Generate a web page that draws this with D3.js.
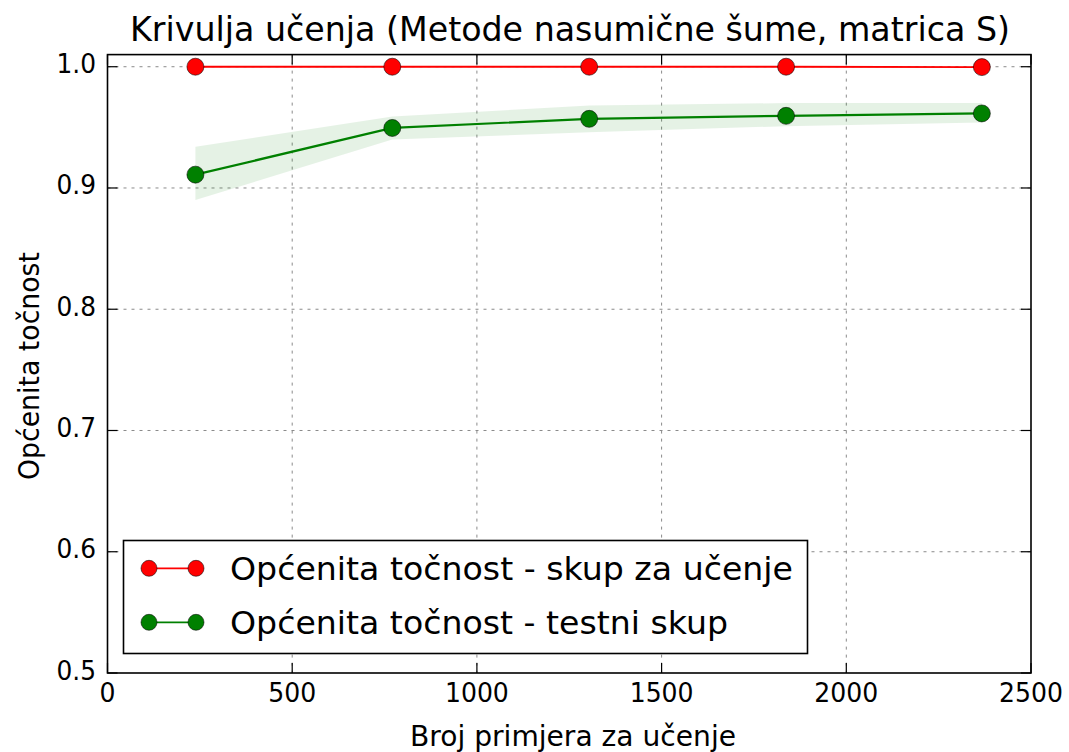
<!DOCTYPE html>
<html>
<head>
<meta charset="utf-8">
<script src="https://cdn.jsdelivr.net/npm/d3@7"></script>
<style>
  html, body { margin: 0; padding: 0; background: #fff; }
  svg { display: block; }
  text { font-family: "DejaVu Sans", sans-serif; fill: #000; }
</style>
</head>
<body>
<svg id="chart" width="1069" height="752"></svg>
<script>
// ---- data ----
const trainSizes = [238, 771, 1304, 1837, 2367];
const trainMean = [1.0, 1.0, 1.0, 1.0, 0.9997];
const trainLow = [1.0, 1.0, 1.0, 1.0, 0.9994];
const trainHigh = [1.0, 1.0, 1.0, 1.0, 1.0];
const testMean = [0.911, 0.9495, 0.957, 0.9595, 0.9615];
const testLow = [0.890, 0.940, 0.946, 0.951, 0.954];
const testHigh = [0.934, 0.959, 0.968, 0.970, 0.970];
const xTicks = [0, 500, 1000, 1500, 2000, 2500];
const yTicks = [0.5, 0.6, 0.7, 0.8, 0.9, 1.0];
const titleText = "Krivulja učenja (Metode nasumične šume, matrica S)";
const xLabelText = "Broj primjera za učenje";
const yLabelText = "Općenita točnost";
const legendLabels = ["Općenita točnost - skup za učenje", "Općenita točnost - testni skup"];
const seriesColors = ["#ff0000", "#008000"];

// ---- layout ----
const svg = d3.select("#chart");
const L = 107.5, R = 1031, T = 54.6, B = 673;
const x = d3.scaleLinear().domain([0, 2500]).range([L, R]);
const y = d3.scaleLinear().domain([0.5, 1.01]).range([B, T]);
const txt = "#262626";

// grid
const grid = svg.append("g");
grid.selectAll("line.gx").data(xTicks.slice(1, -1)).join("line")
  .attr("x1", d => x(d)).attr("x2", d => x(d)).attr("y1", T).attr("y2", B)
  .attr("stroke", "#8a8a8a").attr("stroke-width", 1).attr("stroke-dasharray", "3,5");
grid.selectAll("line.gy").data(yTicks.slice(1)).join("line")
  .attr("y1", d => y(d)).attr("y2", d => y(d)).attr("x1", L).attr("x2", R)
  .attr("stroke", "#8a8a8a").attr("stroke-width", 1).attr("stroke-dasharray", "3,5");

// bands
const area = (lo, hi) => d3.area().x((d, i) => x(trainSizes[i])).y0((d, i) => y(lo[i])).y1((d, i) => y(hi[i]));
svg.append("path").attr("d", area(trainLow, trainHigh)(trainSizes))
  .attr("fill", seriesColors[0]).attr("fill-opacity", 0.1);
svg.append("path").attr("d", area(testLow, testHigh)(trainSizes))
  .attr("fill", seriesColors[1]).attr("fill-opacity", 0.1);

// lines
const line = vals => d3.line().x((d, i) => x(trainSizes[i])).y((d, i) => y(vals[i]));
svg.append("path").attr("d", line(trainMean)(trainSizes)).attr("fill", "none")
  .attr("stroke", seriesColors[0]).attr("stroke-width", 1.8);
svg.append("path").attr("d", line(testMean)(trainSizes)).attr("fill", "none")
  .attr("stroke", seriesColors[1]).attr("stroke-width", 2.2);

// markers
[[trainMean, 0], [testMean, 1]].forEach(([vals, k]) => {
  svg.append("g").selectAll("circle").data(vals).join("circle")
    .attr("cx", (d, i) => x(trainSizes[i])).attr("cy", d => y(d)).attr("r", 8.5)
    .attr("fill", seriesColors[k]).attr("stroke", "#000").attr("stroke-opacity", 0.55).attr("stroke-width", 1);
});

// frame
svg.append("rect").attr("x", L).attr("y", T).attr("width", R - L).attr("height", B - T)
  .attr("fill", "none").attr("stroke", "#000").attr("stroke-width", 1.6);

// ticks (inside, all four sides)
const tl = 10;
const tk = svg.append("g").attr("stroke", "#000").attr("stroke-width", 1.2);
xTicks.forEach(v => {
  tk.append("line").attr("x1", x(v)).attr("x2", x(v)).attr("y1", B).attr("y2", B - tl);
  tk.append("line").attr("x1", x(v)).attr("x2", x(v)).attr("y1", T).attr("y2", T + tl);
});
yTicks.forEach(v => {
  tk.append("line").attr("y1", y(v)).attr("y2", y(v)).attr("x1", L).attr("x2", L + tl);
  tk.append("line").attr("y1", y(v)).attr("y2", y(v)).attr("x1", R).attr("x2", R - tl);
});

// tick labels (slightly condensed like the reference)
const fmtY = d3.format(".1f");
svg.append("g").selectAll("text").data(xTicks).join("text")
  .attr("x", d => x(d)).attr("y", 701.5).attr("text-anchor", "middle")
  .attr("font-size", 27).attr("fill", txt)
  .attr("textLength", d => String(d).length * 0.636 * 27 * 0.93).attr("lengthAdjust", "spacingAndGlyphs")
  .text(d => d);
svg.append("g").selectAll("text").data(yTicks).join("text")
  .attr("x", 96).attr("y", d => y(d) + 6.5).attr("text-anchor", "end")
  .attr("font-size", 27).attr("fill", txt)
  .attr("textLength", 1.59 * 27 * 0.92).attr("lengthAdjust", "spacingAndGlyphs")
  .text(d => fmtY(d));

// title
svg.append("text").attr("x", 570).attr("y", 41).attr("text-anchor", "middle")
  .attr("font-size", 33).attr("fill", txt)
  .attr("textLength", 880).attr("lengthAdjust", "spacingAndGlyphs").text(titleText);

// axis labels
svg.append("text").attr("x", 573).attr("y", 746).attr("text-anchor", "middle")
  .attr("font-size", 28).attr("fill", txt)
  .attr("textLength", 326).attr("lengthAdjust", "spacingAndGlyphs").text(xLabelText);
svg.append("text").attr("transform", "translate(39,366) rotate(-90)").attr("text-anchor", "middle")
  .attr("font-size", 28).attr("fill", txt)
  .attr("textLength", 228).attr("lengthAdjust", "spacingAndGlyphs").text(yLabelText);

// legend
const lg = svg.append("g");
lg.append("rect").attr("x", 123.5).attr("y", 540.5).attr("width", 684).attr("height", 113)
  .attr("fill", "#fff").attr("stroke", "#000").attr("stroke-width", 1.6);
const rowsY = [568.3, 622.3];
const textLens = [563, 498];
legendLabels.forEach((lab, k) => {
  lg.append("line").attr("x1", 149).attr("x2", 196).attr("y1", rowsY[k]).attr("y2", rowsY[k])
    .attr("stroke", seriesColors[k]).attr("stroke-width", 1.8);
  [149, 196].forEach(cx => lg.append("circle").attr("cx", cx).attr("cy", rowsY[k]).attr("r", 8)
    .attr("fill", seriesColors[k]).attr("stroke", "#000").attr("stroke-opacity", 0.55).attr("stroke-width", 1));
  lg.append("text").attr("x", 230).attr("y", rowsY[k] + 12).attr("font-size", 32).attr("fill", "#1a1a1a")
    .attr("textLength", textLens[k]).attr("lengthAdjust", "spacingAndGlyphs").text(lab);
});
</script>
</body>
</html>
